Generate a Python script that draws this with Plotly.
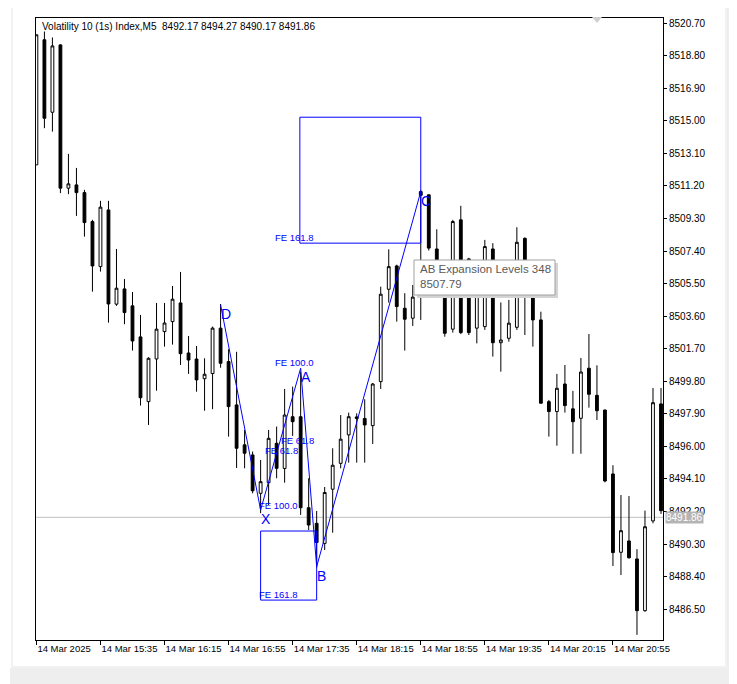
import plotly.graph_objects as go

# M5 candles, 14 Mar 2025 14:55 .. 21:25
opens = [8512.43, 8519.73, 8515.50, 8519.43, 8511.07, 8511.26, 8510.81, 8509.12, 8506.49, 8509.80,
         8504.30, 8505.19, 8504.20, 8502.39, 8498.61, 8501.10, 8502.70, 8503.28, 8504.37, 8501.45,
         8501.10, 8499.95, 8500.25, 8502.90, 8500.95, 8498.42, 8496.09, 8495.50, 8493.26, 8493.88,
         8496.18, 8494.71, 8497.73, 8497.73, 8492.42, 8491.51, 8490.34, 8493.50, 8495.01, 8496.67,
         8497.72, 8497.63, 8497.21, 8499.78, 8505.17, 8506.53, 8504.06, 8503.48, 8510.87, 8510.68,
         8507.52, 8505.13, 8502.84, 8509.22, 8506.94, 8502.90, 8502.99, 8507.52, 8502.05, 8502.31,
         8502.95, 8508.14, 8504.74, 8503.38, 8498.61, 8498.03, 8499.64, 8498.19, 8497.64, 8500.56,
         8498.98, 8498.12, 8494.39, 8489.82, 8490.48, 8489.43, 8486.41, 8491.65, 8498.48]
highs = [8520.02, 8520.21, 8519.86, 8519.47, 8513.07, 8512.25, 8510.97, 8509.22, 8510.33, 8510.33,
         8507.52, 8505.77, 8505.01, 8503.67, 8501.20, 8504.37, 8504.37, 8505.36, 8506.18, 8502.44,
         8501.86, 8501.14, 8502.99, 8504.31, 8501.67, 8501.52, 8496.96, 8495.70, 8495.21, 8496.96,
         8497.16, 8499.35, 8499.49, 8500.36, 8494.14, 8492.23, 8493.63, 8495.89, 8497.83, 8497.97,
         8497.93, 8498.75, 8499.70, 8505.32, 8507.50, 8506.60, 8504.94, 8505.42, 8510.97, 8510.70,
         8508.67, 8505.50, 8509.22, 8510.04, 8507.00, 8506.30, 8508.05, 8507.86, 8504.40, 8504.55,
         8508.79, 8508.20, 8504.78, 8503.86, 8498.71, 8500.23, 8500.75, 8499.24, 8501.16, 8502.56,
         8500.73, 8498.15, 8494.90, 8493.16, 8493.10, 8490.00, 8492.25, 8499.41, 8499.41]
lows = [8512.43, 8514.57, 8514.37, 8510.78, 8510.72, 8509.45, 8508.24, 8505.03, 8506.20, 8503.22,
        8504.20, 8503.13, 8501.59, 8498.38, 8497.25, 8499.25, 8501.82, 8501.94, 8500.75, 8500.23,
        8499.19, 8498.08, 8498.17, 8500.59, 8496.57, 8494.74, 8494.72, 8493.26, 8492.10, 8492.58,
        8494.14, 8493.88, 8496.61, 8492.00, 8491.12, 8488.93, 8489.95, 8490.96, 8494.72, 8495.05,
        8495.05, 8495.05, 8496.14, 8499.35, 8504.39, 8503.28, 8501.59, 8503.03, 8503.38, 8507.43,
        8504.90, 8502.40, 8502.64, 8502.55, 8502.50, 8502.01, 8502.80, 8501.24, 8500.36, 8502.11,
        8502.80, 8502.50, 8501.82, 8498.50, 8496.57, 8496.04, 8497.97, 8495.57, 8495.57, 8498.26,
        8497.54, 8493.90, 8489.02, 8488.49, 8489.45, 8485.00, 8486.35, 8491.51, 8492.06]
closes = [8520.02, 8515.15, 8519.37, 8511.07, 8511.32, 8510.81, 8509.06, 8506.53, 8509.96, 8504.31,
          8505.23, 8503.81, 8502.15, 8498.84, 8501.14, 8502.84, 8503.20, 8504.59, 8501.41, 8501.04,
          8499.88, 8500.21, 8502.90, 8500.85, 8498.32, 8495.89, 8495.60, 8493.41, 8493.94, 8496.47,
          8494.72, 8497.83, 8497.44, 8492.42, 8491.41, 8490.39, 8493.31, 8494.90, 8496.42, 8497.73,
          8497.63, 8497.25, 8499.64, 8504.88, 8506.49, 8504.16, 8503.42, 8504.71, 8510.65, 8507.57,
          8505.13, 8502.60, 8509.12, 8502.64, 8502.64, 8506.01, 8507.66, 8502.05, 8502.21, 8503.19,
          8507.91, 8504.78, 8503.38, 8498.52, 8498.03, 8499.39, 8498.38, 8497.44, 8500.34, 8499.04,
          8498.08, 8493.98, 8489.80, 8491.08, 8489.50, 8486.41, 8491.31, 8498.55, 8492.25]

time_labels = ["14 Mar 2025", "14 Mar 15:35", "14 Mar 16:15", "14 Mar 16:55", "14 Mar 17:35",
               "14 Mar 18:15", "14 Mar 18:55", "14 Mar 19:35", "14 Mar 20:15", "14 Mar 20:55"]
price_ticks = [8486.50, 8488.40, 8490.30, 8492.20, 8494.10, 8496.00, 8497.90, 8499.80, 8501.70,
               8503.60, 8505.50, 8507.40, 8509.30, 8511.20, 8513.10, 8515.00, 8516.90, 8518.80,
               8520.70]

# XABCD-style pattern (bar index, price)
pattern_names = ["D", "X", "A", "B", "C"]
pattern_bars = [23, 28, 33, 35, 48]
pattern_prices = [8504.26, 8492.29, 8500.56, 8488.98, 8510.87]

# Fibonacci expansion levels
fe_names = ["FE 61.8", "FE 100.0", "FE 161.8"]
fe_low = [8495.45, 8492.24, 8487.03]
fe_high = [8496.04, 8500.60, 8507.86]
low_box_top = 8491.06
high_box_top = 8515.21

last_price = 8491.86
header = "Volatility 10 (1s) Index,M5\u00a0\u00a08492.17 8494.27 8490.17 8491.86"
tooltip = "AB Expansion Levels 348<br>8507.79"

# the page body adds an 8px offset, so the figure is laid out from there
OFF = 8
W, H = 737, 684
PLOT_W, PLOT_H = 627, 622
L, T = 36 - OFF, 18 - OFF
R, B = W - L - PLOT_W, H - T - PLOT_H
FONT = "Liberation Sans, Arial, sans-serif"
BLUE = "#0000ff"


def px(x):
    """window pixel -> paper x"""
    return (x - OFF - L) / PLOT_W


def py(y):
    """window pixel -> paper y"""
    return (T + OFF + PLOT_H - y) / PLOT_H


bars = list(range(len(opens)))

fig = go.Figure()
fig.add_trace(go.Candlestick(
    x=bars, open=opens, high=highs, low=lows, close=closes,
    increasing=dict(line=dict(color="black", width=1), fillcolor="white"),
    decreasing=dict(line=dict(color="black", width=1), fillcolor="black"),
    whiskerwidth=0, hoverinfo="skip", showlegend=False,
))
fig.add_trace(go.Scatter(
    x=pattern_bars, y=pattern_prices, mode="lines",
    line=dict(color=BLUE, width=1), hoverinfo="skip", showlegend=False,
))

i_x, i_a, i_b, i_c = pattern_bars[1], pattern_bars[2], pattern_bars[3], pattern_bars[4]
shapes = [
    dict(type="line", xref="paper", yref="y", x0=0, x1=1, y0=last_price, y1=last_price,
         line=dict(color="#c0c0c0", width=1), layer="below"),
    dict(type="rect", xref="x", yref="y", x0=i_a - 0.1, x1=i_c, y0=fe_high[2], y1=high_box_top,
         line=dict(color=BLUE, width=1)),
    dict(type="rect", xref="x", yref="y", x0=i_x, x1=i_b, y0=fe_low[2], y1=low_box_top,
         line=dict(color=BLUE, width=1)),
    # tooltip box with shadow
    dict(type="rect", xref="paper", yref="paper", x0=px(417), x1=px(558), y0=py(298), y1=py(263),
         fillcolor="#d4d4d4", line=dict(width=0)),
    dict(type="rect", xref="paper", yref="paper", x0=px(414), x1=px(555), y0=py(295), y1=py(260),
         fillcolor="white", line=dict(color="#a0a0a0", width=1)),
    # chart shift marker
    dict(type="path", xref="paper", yref="paper",
         path=f"M {px(592)} {py(17)} L {px(602)} {py(17)} L {px(597)} {py(23)} Z",
         fillcolor="#d0d0d0", line=dict(width=0)),
    # window shadow on the right and bottom
    dict(type="rect", xref="paper", yref="paper", x0=px(727), x1=px(740), y0=py(690), y1=py(6),
         fillcolor="#eeeeee", line=dict(width=0), layer="below"),
    dict(type="rect", xref="paper", yref="paper", x0=px(10), x1=px(740), y0=py(690), y1=py(668),
         fillcolor="#eeeeee", line=dict(width=0), layer="below"),
    dict(type="rect", xref="paper", yref="paper", x0=px(12), x1=px(726), y0=py(667), y1=py(6),
         fillcolor="rgba(0,0,0,0)", line=dict(color="#e4e4e4", width=1), layer="below"),
]

annotations = []
for name, b, p in zip(pattern_names, pattern_bars, pattern_prices):
    annotations.append(dict(x=b, y=p, text=name, showarrow=False, xanchor="left", yanchor="top",
                            xshift=-2, yshift=1, font=dict(family=FONT, size=14, color=BLUE)))
for name, lv in zip(fe_names, fe_low):
    annotations.append(dict(x=i_a, y=lv, text=name, showarrow=False, xanchor="right",
                            yanchor="bottom", xshift=-1, yshift=-2,
                            font=dict(family=FONT, size=9.5, color=BLUE)))
for name, lv in zip(fe_names, fe_high):
    annotations.append(dict(x=i_b, y=lv, text=name, showarrow=False, xanchor="right",
                            yanchor="bottom", xshift=-1, yshift=-2,
                            font=dict(family=FONT, size=9.5, color=BLUE)))
annotations += [
    dict(xref="paper", yref="paper", x=px(40), y=py(27), text=header, showarrow=False,
         xanchor="left", yanchor="middle", font=dict(family=FONT, size=10, color="black")),
    dict(xref="paper", yref="paper", x=px(418), y=py(261), text=tooltip, showarrow=False,
         xanchor="left", yanchor="top", align="left",
         font=dict(family=FONT, size=11.5, color="#5a5a5a")),
    dict(xref="paper", yref="y", x=1, y=last_price, text=f"{last_price:.2f}",
         showarrow=False, xanchor="left", yanchor="middle", xshift=2, bgcolor="#b4b4b4",
         borderpad=0, font=dict(family=FONT, size=10, color="white")),
]

fig.update_layout(
    width=W, height=H,
    margin=dict(l=L, r=R, t=T, b=B),
    paper_bgcolor="white", plot_bgcolor="white",
    boxgap=0.5,
    shapes=shapes, annotations=annotations,
    xaxis=dict(
        range=[-0.05, 78.25], rangeslider=dict(visible=False),
        tickvals=bars[::8][:len(time_labels)], ticktext=time_labels,
        ticks="outside", ticklen=4, tickcolor="black", tickangle=0,
        ticklabelposition="outside right", automargin=False,
        showline=True, linecolor="black", linewidth=1, mirror=True,
        showgrid=False, zeroline=False,
        tickfont=dict(family=FONT, size=9.5, color="black"),
    ),
    yaxis=dict(
        range=[8484.70, 8521.00], side="right", automargin=False,
        tickvals=price_ticks, ticktext=[f"{v:.2f}" for v in price_ticks],
        ticks="outside", ticklen=3, tickcolor="black",
        showline=True, linecolor="black", linewidth=1, mirror=True,
        showgrid=False, zeroline=False,
        tickfont=dict(family=FONT, size=10, color="black"),
    ),
)

fig.write_html("out.html")
